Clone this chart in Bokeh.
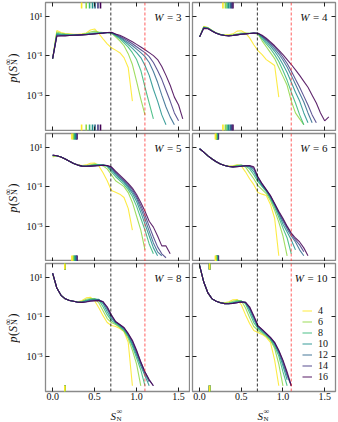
import math
from bokeh.plotting import figure
from bokeh.models import (Range1d, FixedTicker, LinearAxis, LogAxis, CustomJSTickFormatter,
                          Span, Label, Legend, LegendItem)
from bokeh.layouts import column, row
from bokeh.embed import file_html
from bokeh.resources import INLINE

# ---------------- data ----------------
S_GRID = [0.00, 0.05, 0.10, 0.15, 0.20, 0.25, 0.30, 0.35, 0.40, 0.45, 0.50, 0.55, 0.60, 0.65,
          0.70, 0.75, 0.80, 0.85, 0.90, 0.95, 1.00, 1.05, 1.10, 1.15, 1.20, 1.25, 1.30, 1.35,
          1.40, 1.45, 1.50, 1.55]
L_SIZES = [4, 6, 8, 10, 12, 14, 16]
W_VALUES = [3, 4, 5, 6, 8, 10]
COLORS = ["#FDE724", "#8FD744", "#35B778", "#20908C", "#30678D", "#443982", "#440154"]

# log10 p(S) per system size L, on S_GRID
LOGP_W3 = {
    4: [-1.15, 0.27, 0.17, 0.12, 0.10, 0.08, 0.08, 0.10, 0.15, 0.30, 0.35, 0.12, -0.15, -0.40, -0.60, -0.72, -0.85, -1.10, -1.60, -3.30],
    6: [-1.15, 0.20, 0.13, 0.10, 0.08, 0.07, 0.07, 0.08, 0.12, 0.20, 0.24, 0.20, 0.17, 0.17, 0.14, -0.05, -0.25, -0.50, -0.90, -1.45, -2.30, -3.20, -4.00],
    8: [-1.15, 0.13, 0.09, 0.07, 0.06, 0.06, 0.06, 0.07, 0.09, 0.13, 0.16, 0.16, 0.16, 0.17, 0.15, 0.00, -0.15, -0.35, -0.57, -0.85, -1.20, -1.75, -2.60, -3.40, -4.20],
    10: [-1.15, 0.08, 0.06, 0.05, 0.04, 0.04, 0.05, 0.06, 0.08, 0.10, 0.12, 0.14, 0.15, 0.17, 0.16, 0.03, -0.10, -0.26, -0.44, -0.63, -0.85, -1.10, -1.50, -2.00, -2.70, -3.30, -4.00, -4.50],
    12: [-1.15, 0.04, 0.03, 0.03, 0.03, 0.03, 0.04, 0.05, 0.07, 0.09, 0.11, 0.13, 0.15, 0.17, 0.17, 0.06, -0.06, -0.20, -0.35, -0.50, -0.67, -0.85, -1.05, -1.35, -1.80, -2.35, -3.00, -3.60, -4.10, -4.50],
    14: [-1.15, 0.01, 0.01, 0.01, 0.02, 0.03, 0.04, 0.05, 0.06, 0.08, 0.10, 0.12, 0.14, 0.16, 0.17, 0.08, -0.02, -0.13, -0.26, -0.40, -0.55, -0.70, -0.85, -1.05, -1.35, -1.75, -2.20, -2.75, -3.30, -3.90, -4.30],
    16: [-1.15, -0.02, 0.00, 0.00, 0.02, 0.03, 0.04, 0.05, 0.06, 0.08, 0.10, 0.12, 0.14, 0.17, 0.18, 0.10, 0.03, -0.07, -0.18, -0.30, -0.43, -0.56, -0.70, -0.85, -1.00, -1.20, -1.55, -2.00, -2.50, -3.10, -3.50, -4.20],
}
LOGP_W4 = {
    4: [-0.05, 0.48, 0.42, 0.27, 0.15, 0.08, 0.05, 0.05, 0.10, 0.24, 0.26, 0.15, -0.10, -0.45, -0.75, -0.95, -1.20, -1.35, -1.50, -3.10],
    6: [-0.05, 0.46, 0.41, 0.27, 0.15, 0.08, 0.04, 0.03, 0.06, 0.10, 0.14, 0.14, 0.13, 0.12, 0.10, -0.25, -0.55, -0.85, -1.15, -1.60, -2.05, -2.50, -3.30, -3.90, -4.20, -4.50],
    8: [-0.05, 0.44, 0.40, 0.26, 0.14, 0.07, 0.03, 0.02, 0.04, 0.07, 0.10, 0.12, 0.13, 0.13, 0.12, -0.15, -0.40, -0.65, -0.95, -1.30, -1.75, -2.25, -2.85, -3.40, -4.00, -4.50],
    10: [-0.05, 0.42, 0.39, 0.26, 0.14, 0.07, 0.03, 0.01, 0.03, 0.06, 0.09, 0.11, 0.12, 0.13, 0.12, -0.08, -0.30, -0.52, -0.78, -1.08, -1.45, -1.85, -2.35, -2.85, -3.30, -3.90, -4.40],
    12: [-0.05, 0.41, 0.38, 0.25, 0.13, 0.06, 0.02, 0.01, 0.02, 0.05, 0.08, 0.10, 0.12, 0.14, 0.13, -0.03, -0.22, -0.43, -0.66, -0.92, -1.22, -1.58, -2.00, -2.45, -2.90, -3.35, -3.90, -4.40],
    14: [-0.05, 0.40, 0.37, 0.25, 0.13, 0.06, 0.02, 0.00, 0.02, 0.05, 0.08, 0.10, 0.12, 0.14, 0.13, 0.00, -0.17, -0.36, -0.56, -0.80, -1.08, -1.40, -1.78, -2.20, -2.60, -3.05, -3.50, -4.00, -4.40],
    16: [-0.05, 0.38, 0.36, 0.24, 0.13, 0.06, 0.02, 0.00, 0.02, 0.05, 0.08, 0.10, 0.12, 0.14, 0.13, 0.03, -0.12, -0.30, -0.50, -0.72, -0.95, -1.20, -1.45, -1.72, -2.00, -2.30, -2.60, -3.00, -3.40, -3.90, -4.30, -4.10],
}
LOGP_W5 = {
    4: [0.50, 0.55, 0.49, 0.40, 0.28, 0.17, 0.10, 0.07, 0.10, 0.18, 0.20, 0.05, -0.30, -0.70, -1.20, -1.28, -1.38, -1.55, -2.10, -3.20],
    6: [0.55, 0.56, 0.50, 0.40, 0.28, 0.17, 0.09, 0.05, 0.06, 0.10, 0.14, 0.12, 0.05, -0.10, -0.40, -0.70, -0.85, -1.00, -1.30, -1.80, -2.50, -3.20, -4.20],
    8: [0.57, 0.56, 0.50, 0.40, 0.28, 0.17, 0.09, 0.05, 0.04, 0.07, 0.10, 0.11, 0.09, 0.02, -0.25, -0.50, -0.70, -0.90, -1.15, -1.50, -2.00, -2.60, -3.20, -3.90, -4.40],
    10: [0.58, 0.56, 0.50, 0.40, 0.28, 0.17, 0.09, 0.04, 0.03, 0.05, 0.08, 0.10, 0.10, 0.05, -0.15, -0.40, -0.60, -0.80, -1.05, -1.35, -1.75, -2.30, -2.90, -3.50, -4.10, -4.50],
    12: [0.59, 0.56, 0.50, 0.40, 0.28, 0.17, 0.09, 0.04, 0.03, 0.04, 0.06, 0.08, 0.09, 0.06, -0.08, -0.33, -0.53, -0.73, -0.97, -1.25, -1.60, -2.10, -2.65, -3.25, -3.85, -4.30, -4.50],
    14: [0.60, 0.56, 0.50, 0.40, 0.28, 0.17, 0.09, 0.04, 0.03, 0.04, 0.05, 0.07, 0.08, 0.07, -0.03, -0.28, -0.48, -0.68, -0.90, -1.15, -1.50, -1.95, -2.45, -3.00, -3.55, -4.05, -4.40, -4.60],
    16: [0.60, 0.56, 0.50, 0.40, 0.28, 0.17, 0.09, 0.04, 0.03, 0.04, 0.05, 0.06, 0.08, 0.07, 0.00, -0.22, -0.42, -0.62, -0.83, -1.07, -1.40, -1.80, -2.25, -2.75, -3.05, -3.50, -4.00, -4.00, -4.40],
}
LOGP_W6 = {
    4: [0.90, 0.75, 0.56, 0.40, 0.26, 0.15, 0.08, 0.04, 0.05, 0.10, 0.05, -0.25, -0.60, -0.90, -1.30, -1.38, -1.45, -1.90, -2.60, -4.50],
    6: [0.91, 0.75, 0.56, 0.40, 0.26, 0.15, 0.07, 0.03, 0.03, 0.08, 0.10, 0.00, -0.30, -0.60, -0.95, -1.15, -1.35, -1.70, -2.20, -2.80, -3.50, -4.50],
    8: [0.92, 0.75, 0.56, 0.40, 0.26, 0.15, 0.07, 0.02, 0.01, 0.05, 0.08, 0.06, -0.10, -0.40, -0.75, -1.00, -1.25, -1.60, -2.05, -2.55, -3.10, -3.60, -4.40],
    10: [0.92, 0.75, 0.56, 0.40, 0.26, 0.15, 0.07, 0.02, 0.00, 0.03, 0.06, 0.07, 0.00, -0.25, -0.65, -0.95, -1.20, -1.55, -1.95, -2.40, -2.90, -3.30, -3.70, -4.20],
    12: [0.92, 0.75, 0.56, 0.40, 0.26, 0.15, 0.07, 0.02, 0.00, 0.02, 0.04, 0.06, 0.04, -0.12, -0.58, -0.90, -1.18, -1.50, -1.90, -2.35, -2.75, -3.15, -3.50, -3.80, -4.20, -4.50],
    14: [0.92, 0.75, 0.56, 0.40, 0.26, 0.15, 0.07, 0.02, 0.00, 0.01, 0.03, 0.05, 0.06, -0.05, -0.53, -0.87, -1.16, -1.47, -1.87, -2.30, -2.67, -3.05, -3.40, -3.70, -3.95, -4.30],
    16: [0.92, 0.75, 0.56, 0.40, 0.26, 0.15, 0.07, 0.02, 0.00, 0.01, 0.03, 0.06, 0.07, 0.00, -0.50, -0.85, -1.15, -1.45, -1.85, -2.25, -2.60, -3.00, -3.35, -3.60, -3.80, -4.10, -4.50],
}
LOGP_W8 = {
    4: [1.15, 0.45, 0.08, -0.10, -0.18, -0.22, -0.25, -0.18, -0.05, -0.02, -0.20, -0.55, -0.95, -1.30, -1.45, -1.50, -1.60, -1.75, -2.30, -4.50],
    6: [1.17, 0.45, 0.08, -0.10, -0.18, -0.22, -0.26, -0.22, -0.12, -0.08, -0.08, -0.30, -0.70, -1.10, -1.30, -1.40, -1.55, -1.75, -2.10, -2.70, -3.40, -4.50],
    8: [1.18, 0.45, 0.08, -0.10, -0.18, -0.22, -0.27, -0.25, -0.17, -0.12, -0.10, -0.15, -0.50, -0.90, -1.20, -1.35, -1.50, -1.70, -2.00, -2.50, -3.10, -3.70, -4.50],
    10: [1.19, 0.45, 0.08, -0.10, -0.18, -0.22, -0.27, -0.27, -0.20, -0.15, -0.13, -0.12, -0.35, -0.75, -1.10, -1.30, -1.45, -1.65, -1.95, -2.40, -2.95, -3.50, -4.00, -4.50],
    12: [1.20, 0.45, 0.08, -0.10, -0.18, -0.22, -0.27, -0.28, -0.23, -0.18, -0.16, -0.14, -0.27, -0.62, -1.00, -1.28, -1.43, -1.60, -1.90, -2.30, -2.85, -3.40, -3.90, -4.30],
    14: [1.20, 0.45, 0.08, -0.10, -0.18, -0.22, -0.27, -0.28, -0.25, -0.20, -0.18, -0.17, -0.24, -0.55, -0.95, -1.26, -1.41, -1.57, -1.87, -2.25, -2.75, -3.30, -3.80, -4.20, -4.50],
    16: [1.20, 0.45, 0.08, -0.10, -0.18, -0.22, -0.27, -0.28, -0.26, -0.22, -0.20, -0.19, -0.25, -0.50, -0.90, -1.25, -1.40, -1.55, -1.85, -2.20, -2.70, -3.30, -3.80, -4.20, -4.50],
}
LOGP_W10 = {
    4: [1.55, 0.75, 0.20, -0.10, -0.22, -0.28, -0.30, -0.25, -0.15, -0.13, -0.40, -0.90, -1.35, -1.70, -1.80, -1.90, -2.05, -2.30, -3.20, -4.50],
    6: [1.57, 0.75, 0.20, -0.10, -0.22, -0.29, -0.32, -0.30, -0.22, -0.17, -0.20, -0.55, -1.05, -1.50, -1.70, -1.85, -2.00, -2.20, -2.60, -3.40, -4.50],
    8: [1.58, 0.75, 0.20, -0.10, -0.22, -0.30, -0.33, -0.32, -0.27, -0.22, -0.20, -0.35, -0.80, -1.30, -1.60, -1.78, -1.95, -2.15, -2.50, -3.00, -3.80, -4.50],
    10: [1.59, 0.75, 0.20, -0.10, -0.22, -0.30, -0.34, -0.34, -0.30, -0.26, -0.23, -0.28, -0.65, -1.15, -1.55, -1.72, -1.90, -2.10, -2.40, -2.85, -3.50, -4.20],
    12: [1.60, 0.75, 0.20, -0.10, -0.22, -0.30, -0.34, -0.35, -0.32, -0.28, -0.25, -0.27, -0.58, -1.05, -1.50, -1.68, -1.88, -2.08, -2.35, -2.78, -3.35, -4.00, -4.50],
    14: [1.60, 0.75, 0.20, -0.10, -0.22, -0.30, -0.34, -0.35, -0.33, -0.29, -0.26, -0.27, -0.53, -1.00, -1.47, -1.66, -1.86, -2.06, -2.32, -2.74, -3.25, -3.90, -4.50],
    16: [1.60, 0.75, 0.20, -0.10, -0.22, -0.30, -0.34, -0.35, -0.33, -0.30, -0.26, -0.28, -0.50, -0.95, -1.45, -1.65, -1.85, -2.05, -2.30, -2.70, -3.20, -3.80, -4.50],
}
# short marks at the top / bottom edges of each panel (one per L)
RUG_W3 = [0.345, 0.40, 0.44, 0.475, 0.505, 0.54, 0.57]
RUG_W4 = [0.28, 0.31, 0.33, 0.35, 0.37, 0.385, 0.40]
RUG_W5 = [0.23, 0.245, 0.255, 0.265, 0.275, 0.285, 0.29]
RUG_W6 = [0.19, 0.20, 0.205, 0.21, 0.215, 0.22, 0.225]
RUG_W8 = [0.145, 0.145, 0.145, 0.145, 0.145, 0.145, 0.145]
RUG_W10 = [0.12, 0.12, 0.12, 0.12, 0.12, 0.12, 0.12]

X_TICKS = [0.0, 0.5, 1.0, 1.5]
Y_TICKS = [10.0, 0.1, 0.001]
S_LN2 = 0.693
S_LN3 = 1.099
X_LIM = (-0.085, 1.63)
Y_LIM = (10 ** -4.79, 10 ** 1.69)

PANELS = [(3, LOGP_W3, RUG_W3), (4, LOGP_W4, RUG_W4), (5, LOGP_W5, RUG_W5),
          (6, LOGP_W6, RUG_W6), (8, LOGP_W8, RUG_W8), (10, LOGP_W10, RUG_W10)]

# ---------------- layout / style ----------------
FONT = "Liberation Serif"
TXT = "#111111"
STRIP_W = 20           # strip left of the grid holding the y labels
STRIP_H = 18           # strip below the grid holding the x labels
FRAME_W_L, FRAME_W_R, FRAME_H = 144, 143, 128

SUP_CODE = """
const s = {"-":"\u207b","0":"\u2070","1":"\u00b9","2":"\u00b2","3":"\u00b3","4":"\u2074","5":"\u2075","6":"\u2076","7":"\u2077","8":"\u2078","9":"\u2079"};
const e = Math.round(Math.log10(tick));
return "10" + String(e).split("").map(c => s[c]).join("");
"""


def txt(p, x, y, text, size, style="normal", angle=0.0, align="left", units="screen"):
    p.add_layout(Label(x=x, y=y, x_units=units, y_units=units, text=text,
                       text_font=FONT, text_font_size=f"{size}px", text_font_style=style,
                       angle=angle, text_align=align, text_baseline="alphabetic",
                       text_color=TXT))


def style_axis(ax, kind):
    ax.major_tick_in = 4
    ax.major_tick_out = 0
    ax.minor_tick_in = 0
    ax.minor_tick_out = 0
    ax.major_tick_line_color = "#222222"
    ax.major_tick_line_width = 1
    ax.axis_line_color = None
    ax.major_label_text_font = FONT
    ax.major_label_text_font_size = "10px"
    ax.major_label_text_color = TXT
    if kind == "x":
        ax.formatter = CustomJSTickFormatter(code="return tick.toFixed(1);")
        ax.major_label_standoff = 1
    elif kind == "y":
        ax.formatter = CustomJSTickFormatter(code=SUP_CODE)
        ax.major_label_standoff = 3
    else:
        ax.formatter = CustomJSTickFormatter(code="return '';")
        ax.major_label_standoff = 0


def make_panel(idx):
    W, logp, rug = PANELS[idx]
    r, c = divmod(idx, 2)
    left = c == 0
    bottom = r == 2
    mb_left = 45 - STRIP_W if left else 2
    mb_right = 1 if left else 3
    mb_top = 2
    mb_bot = [1, 0, 13][r]
    fw = FRAME_W_L if left else FRAME_W_R
    p = figure(width=fw + mb_left + mb_right, height=FRAME_H + mb_top + mb_bot,
               x_range=Range1d(*X_LIM), y_range=Range1d(*Y_LIM), y_axis_type="log",
               output_backend="svg", toolbar_location=None,
               min_border_left=mb_left, min_border_right=mb_right,
               min_border_top=mb_top, min_border_bottom=mb_bot)
    p.grid.visible = False
    p.background_fill_color = "white"
    p.border_fill_color = "white"
    p.outline_line_color = "#8a8a8a"
    p.outline_line_width = 1.3

    p.xaxis.ticker = FixedTicker(ticks=X_TICKS, minor_ticks=[])
    p.yaxis.ticker = FixedTicker(ticks=Y_TICKS, minor_ticks=[])
    style_axis(p.xaxis[0], "x" if bottom else "none")
    style_axis(p.yaxis[0], "y" if left else "none")
    top_ax = LinearAxis(ticker=FixedTicker(ticks=X_TICKS, minor_ticks=[]))
    style_axis(top_ax, "none")
    p.add_layout(top_ax, "above")
    right_ax = LogAxis(ticker=FixedTicker(ticks=Y_TICKS, minor_ticks=[]))
    style_axis(right_ax, "none")
    p.add_layout(right_ax, "right")

    for L, col in zip(L_SIZES, COLORS):
        vals = logp[L]
        xs = S_GRID[:len(vals)]
        ys = [10 ** v for v in vals]
        p.line(xs, ys, line_color=col, line_width=1.1, line_alpha=0.85)

    # rug marks at top and bottom edge
    for xv, col in reversed(list(zip(rug, COLORS))):
        p.scatter([xv, xv], [Y_LIM[1], Y_LIM[0]], marker="dash", angle=math.pi / 2,
                  size=12, line_color=col, line_width=1.6)

    p.add_layout(Span(location=S_LN2, dimension="height", line_color="black",
                      line_dash="3 2", line_width=0.8))
    p.add_layout(Span(location=S_LN3, dimension="height", line_color="#ff2020",
                      line_alpha=0.8, line_dash="3 2", line_width=0.9))

    # panel title "W = n"
    eq = f"= {W}"
    eq_w = 6.5 + 3 + 5.6 * len(str(W))
    txt(p, fw - 8, FRAME_H - 14, eq, 11, align="right")
    txt(p, fw - 8 - eq_w - 3, FRAME_H - 14, "W", 11, style="italic", align="right")

    if idx == 5:
        items = []
        for L, col in zip(L_SIZES, COLORS):
            rd = p.line([0.0], [1e-9], line_color=col, line_width=1.5, line_alpha=0.6)
            items.append(LegendItem(label=str(L), renderers=[rd]))
        leg = Legend(items=items, location=(110, 9), glyph_width=10, glyph_height=11,
                     label_height=11, spacing=0, padding=0, margin=0, label_standoff=6,
                     label_text_font=FONT, label_text_font_size="10px",
                     label_text_color=TXT, background_fill_alpha=0,
                     border_line_alpha=0)
        p.add_layout(leg)
    return p


def strip(w, h):
    s = figure(width=w, height=h, x_range=Range1d(0, w), y_range=Range1d(0, h),
               output_backend="svg", toolbar_location=None, min_border=0,
               x_axis_location=None, y_axis_location=None)
    s.grid.visible = False
    s.outline_line_color = None
    s.background_fill_color = "white"
    s.border_fill_color = "white"
    return s


figs = [make_panel(i) for i in range(6)]
grid_h = sum(f.height for f in (figs[0], figs[2], figs[4]))
total_h = grid_h + STRIP_H

# y labels p(S_N^inf), rotated, one per row (strip coordinates are pixels from bottom-left)
ylab = strip(STRIP_W, total_h)
a = math.pi / 2
for r in range(3):
    y0 = total_h - (82 + 130 * r)
    bx = 12
    txt(ylab, bx, y0, "p", 12, style="italic", angle=a, units="data")
    txt(ylab, bx, y0 + 6.5, "(", 12, angle=a, units="data")
    txt(ylab, bx, y0 + 10.5, "S", 12, style="italic", angle=a, units="data")
    txt(ylab, bx - 4.5, y0 + 17.5, "\u221e", 9, angle=a, units="data")
    txt(ylab, bx + 1.5, y0 + 17.5, "N", 8, angle=a, units="data")
    txt(ylab, bx, y0 + 25, ")", 12, angle=a, units="data")

# x labels S_N^inf under the bottom row
xlab = strip(figs[4].width + figs[5].width, STRIP_H)
for sx in (110 - STRIP_W, 257 - STRIP_W):
    txt(xlab, sx, 7, "S", 11, style="italic", units="data")
    txt(xlab, sx + 6, 11, "\u221e", 8, units="data")
    txt(xlab, sx + 6, 4, "N", 7, units="data")

grid = column(row(figs[0], figs[1], spacing=0), row(figs[2], figs[3], spacing=0),
              row(figs[4], figs[5], spacing=0), xlab, spacing=0)
layout = row(ylab, grid, spacing=0)
open("out.html", "w").write(file_html(layout, INLINE))
